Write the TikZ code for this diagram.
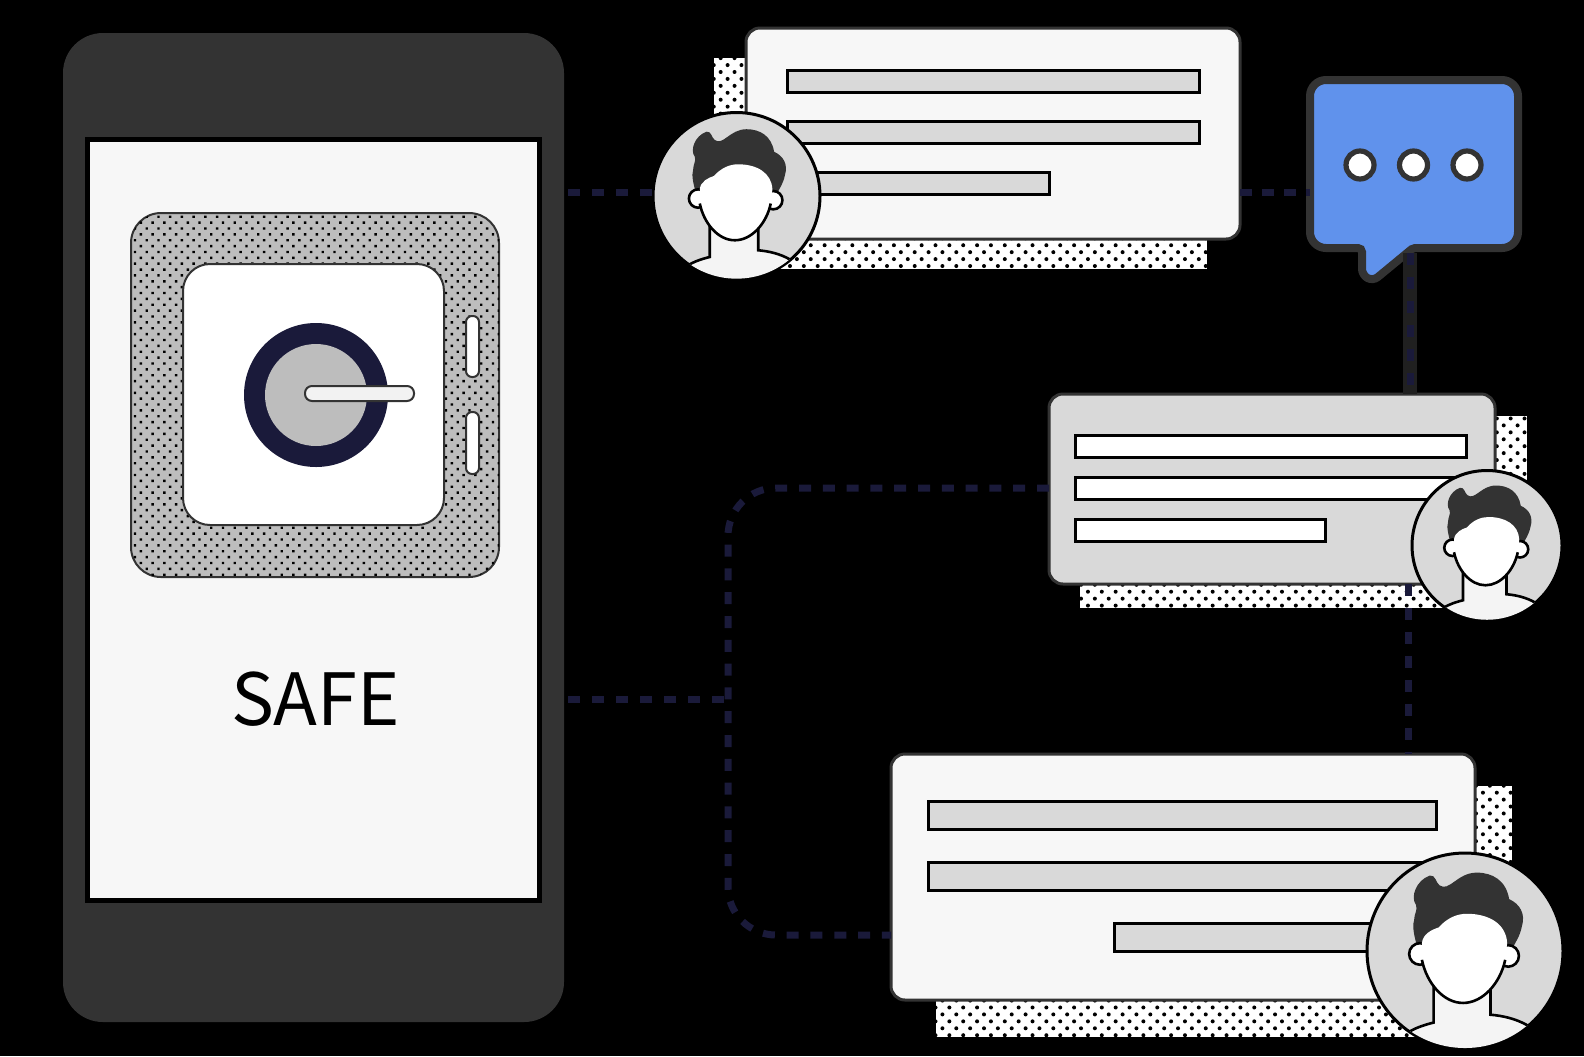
\documentclass[tikz,border=0pt]{standalone}
\usepackage{fontspec}
\newfontfamily\safefont{Noto Sans CJK SC}
\usetikzlibrary{positioning,patterns.meta}
\definecolor{phonegray}{HTML}{333333}
\definecolor{screenwhite}{HTML}{F7F7F7}
\definecolor{barfill}{HTML}{D9D9D9}
\definecolor{safegray}{HTML}{BDBDBD}
\definecolor{linknavy}{HTML}{1A1A3A}
\definecolor{linkhalo}{HTML}{202020}
\definecolor{bubbleblue}{HTML}{6092EC}
\tikzset{
card/.style={draw=phonegray,line width=1.5pt,rounded corners=7pt,inner sep=0pt,outer sep=0pt},
bar/.style={draw=black,line width=1.5pt,fill=barfill,inner sep=0pt,outer sep=0pt,minimum height=11pt},
shade/.style={preaction={fill=white},pattern={Dots[distance=4.9pt,radius=1pt,angle=45]},pattern color=black,inner sep=0pt,outer sep=0pt},
portrait/.style={circle,draw=black,line width=1.5pt,fill=barfill,inner sep=0pt,outer sep=0pt},
link/.style={draw=linknavy,line width=3.5pt,dash pattern=on 6pt off 6pt},
halolink/.style={link,preaction={draw=linkhalo,solid,line width=7pt}},
slot/.style={draw=phonegray,line width=1pt,fill=white,rounded corners=3pt,inner sep=0pt,minimum width=6.5pt},
pics/head/.style={code={
\begin{scope}
\clip (0,0) circle[radius=99];
\draw[black,line width=1.3pt,fill=screenwhite!90!barfill] (-58,83) .. controls (-50,78) and (-40,75) .. (-32,73) -- (-32,37) -- (26,37) -- (26,65) .. controls (38,66) and (52,69) .. (64,76) -- (64,110) -- (-58,110) -- cycle;
\fill[phonegray] (-36,-77) .. controls (-30,-78) and (-30,-70) .. (-26,-67) .. controls (-16,-60) and (-8,-80) .. (12,-80) .. controls (28,-80) and (42,-72) .. (45,-53) .. controls (56,-48) and (62,-38) .. (58,-25) .. controls (56,-15) and (52,-10) .. (48,-2) -- (-48,-2) .. controls (-52,-15) and (-54,-25) .. (-52,-31) .. controls (-52,-38) and (-48,-42) .. (-50,-47) .. controls (-56,-55) and (-50,-72) .. (-36,-77) -- cycle;
\draw[black,line width=1.3pt,fill=white] (-46,3) circle[radius=11];
\draw[black,line width=1.3pt,fill=white] (44,5) circle[radius=11];
\fill[white] (-44,-8) .. controls (-43,-18) and (-33,-22) .. (-27,-24) .. controls (-18,-34) and (-8,-38) .. (2,-38) .. controls (24,-38) and (42,-28) .. (43,-8) -- (41,9) .. controls (36,33) and (18,53) .. (-2,53) .. controls (-22,53) and (-39,33) .. (-44,9) -- cycle;
\draw[black,line width=1.3pt] (41,9) .. controls (36,33) and (18,53) .. (-2,53) .. controls (-22,53) and (-39,33) .. (-44,9);
\end{scope}
}}
}
\begin{document}
\begin{tikzpicture}[x=.5pt,y=-.5pt]
\fill[black] (0,0) rectangle (1584,1056);
% phone
\node[fill=phonegray,rounded corners=20pt,minimum width=250.5pt,minimum height=494.5pt,inner sep=0pt,outer sep=0pt] (phone) at (313.5,527.5) {};
\node[draw=black,line width=2.5pt,fill=screenwhite,minimum width=226pt,minimum height=380.5pt,inner sep=0pt] (screen) at (313.5,520) {};
\node[font=\safefont\fontsize{36}{40}\selectfont,inner sep=0pt] (safetext) at (315.5,699) {SAFE};
% safe
\node[draw=phonegray,line width=1pt,fill=safegray,rounded corners=15pt,minimum width=184pt,minimum height=182pt,inner sep=0pt] (safebase) at (315,395) {};
\node[rounded corners=15pt,minimum width=184pt,minimum height=182pt,inner sep=0pt,pattern={Dots[distance=4.15pt,radius=.85pt,angle=45]},pattern color=black] (safedots) at (315,395) {};
\node[draw=phonegray,line width=1pt,fill=white,rounded corners=13.5pt,minimum width=130.5pt,minimum height=130.5pt,inner sep=0pt] (door) at (313.5,394.5) {};
\node[circle,fill=linknavy,minimum size=72pt,inner sep=0pt] (dial) at (316,395) {};
\node[circle,fill=safegray,minimum size=51pt,inner sep=0pt] (dialcore) at (316,395) {};
\node[draw=phonegray,line width=1pt,fill=screenwhite!85!barfill,rounded corners=3.5pt,minimum width=54.5pt,minimum height=7.5pt,inner sep=0pt] (handle) at (359.5,393.5) {};
\node[slot,minimum height=30.5pt] (slotA) at (472.5,346.5) {};
\node[slot,minimum height=31pt] (slotB) at (472.5,443) {};
% first message
\node[shade,minimum width=246.5pt,minimum height=105.5pt] (shadeA) at (960.5,163.5) {};
\node[card,fill=screenwhite,minimum width=247pt,minimum height=105.5pt] (cardA) at (993,133.5) {};
\node[bar,minimum width=206pt] (barA1) at (993,81) {};
\node[bar,minimum width=206pt,below=14.5pt of barA1] (barA2) {};
\node[bar,minimum width=131pt,below=14.5pt of barA2.south west,anchor=north west] (barA3) {};
\node[portrait,minimum size=83.5pt] (faceA) at (736.5,196) {};
\pic[scale=.835] at (faceA) {head};
% bubble
\node[inner sep=0pt,outer sep=0pt,minimum width=104pt,minimum height=84pt] (bubble) at (1414,164) {};
\draw[phonegray,line width=4pt,fill=bubbleblue,rounded corners=8pt] (bubble.south west) -- (bubble.north west) -- (bubble.north east) -- (bubble.south east) [rounded corners=1pt] -- (1413,248) [rounded corners=3pt] -- (1373,281) -- (1362,275) [rounded corners=2pt] -- (1362,248) [rounded corners=8pt] -- cycle;
\foreach \i/\x in {1/1360,2/1413.5,3/1467}
\node[circle,draw=phonegray,line width=2.6pt,fill=white,minimum size=14pt,inner sep=0pt] (dot\i) at (\x,165) {};
% second message
\node[shade,minimum width=223.5pt,minimum height=96pt] (shadeB) at (1303.5,512) {};
\node[card,fill=barfill,minimum width=223pt,minimum height=95pt] (cardB) at (1272,489) {};
\node[bar,fill=white,minimum width=195.5pt] (barB1) at (1270.5,446.5) {};
\node[bar,fill=white,minimum width=195.5pt,below=10pt of barB1] (barB2) {};
\node[bar,fill=white,minimum width=125pt,below=10pt of barB2.south west,anchor=north west] (barB3) {};
\node[portrait,minimum size=75pt] (faceB) at (1487,545.5) {};
\pic[scale=.75] at (faceB) {head};
% third message
\node[shade,minimum width=288pt,minimum height=125.5pt] (shadeC) at (1224,911.5) {};
\node[card,fill=screenwhite,minimum width=292pt,minimum height=123pt] (cardC) at (1183,877) {};
\node[bar,minimum width=254pt,minimum height=14pt] (barC1) at (1182,815) {};
\node[bar,minimum width=254pt,minimum height=14pt,below=16.5pt of barC1] (barC2) {};
\node[bar,minimum width=161pt,minimum height=14pt,below=16.5pt of barC2.south east,anchor=north east] (barC3) {};
\node[portrait,minimum size=98pt] (faceC) at (1465,951) {};
\pic[scale=.98] at (faceC) {head};
% links
\coordinate (phoneA) at (568,192);
\coordinate (phoneB) at (568,699);
\coordinate (trunkT) at (728,488);
\coordinate (trunkB) at (728,935);
\draw[link] (phoneA) -- (faceA.west |- phoneA);
\draw[link,dash pattern=on 6pt off 5pt] (cardA.east |- phoneA) -- (bubble.west |- phoneA);
\draw[halolink] (bubble.south -| 1410,0) ++(0,5) -- (cardB.north -| 1410,0);
\draw[link] (cardB.south -| 1408,0) -- (cardC.north -| 1408,0);
\draw[link] (phoneB) -- (trunkT |- phoneB);
\draw[link,rounded corners=24pt,dash pattern=on 6pt off 5.9pt] (cardB.west |- trunkT) -- (trunkT) -- (trunkB) -- (cardC.west |- trunkB);
\end{tikzpicture}
\end{document}
